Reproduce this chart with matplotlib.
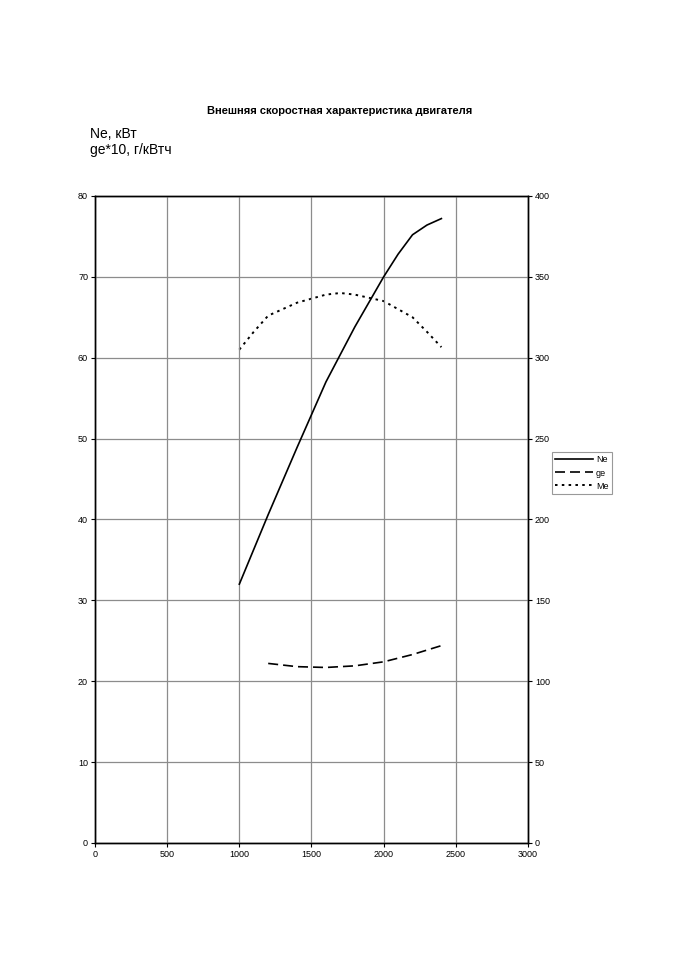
import matplotlib.pyplot as plt
import numpy as np

# Readings from the chart (rpm on the x axis)
rpm_ne = [1000, 1200, 1400, 1600, 1800, 2000, 2100, 2200, 2300, 2400]
ne = [32.0, 40.6, 48.9, 57.0, 63.8, 70.0, 72.8, 75.2, 76.4, 77.2]

rpm_ge = [1200, 1400, 1600, 1800, 2000, 2200, 2400]
ge = [22.2, 21.8, 21.7, 21.9, 22.4, 23.3, 24.4]

rpm_me = [1000, 1100, 1200, 1400, 1600, 1700, 1800, 2000, 2200, 2300, 2400]
me = [305.0, 316.0, 326.0, 334.0, 339.0, 340.0, 339.0, 335.0, 325.0, 316.0, 306.5]

x_ticks = np.arange(0, 3001, 500)
left_ticks = np.arange(0, 81, 10)
right_ticks = np.arange(0, 401, 50)

plt.rcParams['font.family'] = ['Liberation Sans', 'DejaVu Sans']

fig = plt.figure(figsize=(6.79, 9.6), dpi=100)
ax = fig.add_axes([0.1399, 0.1219, 0.6377, 0.6740])
ax2 = ax.twinx()

ln1, = ax.plot(rpm_ne, ne, color='black', lw=1.2, label='Ne')
ln2, = ax.plot(rpm_ge, ge, color='black', lw=1.2, ls=(0, (6, 3)), label='ge')
ln3, = ax2.plot(rpm_me, me, color='black', lw=1.4, ls=(0, (1.3, 2.2)), label='Me')

ax.set_xlim(0, 3000)
ax.set_ylim(0, 80)
ax2.set_ylim(0, 400)
ax.set_xticks(x_ticks)
ax.set_yticks(left_ticks)
ax2.set_yticks(right_ticks)

ax.grid(True, color='#8c8c8c', lw=0.9)
ax.set_axisbelow(True)

for a in (ax, ax2):
    for s in a.spines.values():
        s.set_color('black')
        s.set_linewidth(1.0)
    a.tick_params(labelsize=6.5, length=3, width=0.8, direction='out', pad=2)

ax.set_zorder(ax2.get_zorder() + 1)
ax.patch.set_visible(False)

fig.text(0.5, 0.884, 'Внешняя скоростная характеристика двигателя',
         ha='center', va='center', fontsize=8, fontweight='bold')
fig.text(0.132, 0.852, 'Ne, кВт\nge*10, г/кВтч', ha='left', va='center',
         fontsize=10, linespacing=1.15)

leg = fig.legend(handles=[ln1, ln2, ln3], loc='upper left',
                 bbox_to_anchor=(0.806, 0.534), fontsize=6.5, frameon=True,
                 fancybox=False, edgecolor='#808080', handlelength=4.2,
                 handletextpad=0.3, borderpad=0.4, labelspacing=0.45)
leg.get_frame().set_linewidth(0.8)

fig.savefig('out.png', dpi=100)
